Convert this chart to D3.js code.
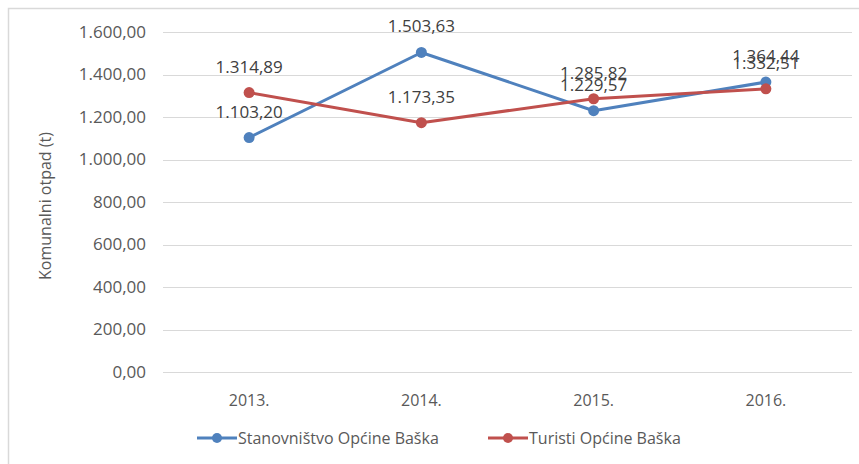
<!DOCTYPE html>
<html>
<head>
<meta charset="utf-8">
<script src="https://cdn.jsdelivr.net/npm/d3@7"></script>
<style>
  html, body { margin: 0; padding: 0; background: #fff; }
  svg text { font-family: "Open Sans", "Liberation Sans", sans-serif; }
</style>
</head>
<body>
<svg id="chart" width="859" height="464"></svg>
<script>
// Municipal waste (t) produced in Baška, by year
const years = ["2013.", "2014.", "2015.", "2016."];
const residents = [1103.20, 1503.63, 1229.57, 1364.44];
const tourists = [1314.89, 1173.35, 1285.82, 1332.51];
const yTicks = [0, 200, 400, 600, 800, 1000, 1200, 1400, 1600];
const seriesNames = ["Stanovništvo Općine Baška", "Turisti Općine Baška"];
const seriesColors = ["#4F81BD", "#C0504D"];

const series = [
  { name: seriesNames[0], color: seriesColors[0], values: residents },
  { name: seriesNames[1], color: seriesColors[1], values: tourists }
];

const svg = d3.select("#chart");
const W = 859, H = 464;
const plot = { left: 163, right: 852, top: 32, bottom: 372 };

// Hrvatski number format: 1.234,56
const hr = d3.formatLocale({ decimal: ",", thousands: ".", grouping: [3], currency: ["", " kn"] });
const fmt = hr.format(",.2f");

// chart frame (right and bottom edges run past the canvas)
svg.append("rect")
  .attr("x", 8.5).attr("y", 8.5)
  .attr("width", W + 20).attr("height", H + 20)
  .attr("fill", "#fff").attr("stroke", "#D9D9D9").attr("stroke-width", 1.5);

const x = d3.scaleBand().domain(years).range([plot.left, plot.right]);
const y = d3.scaleLinear().domain([0, 1600]).range([plot.bottom, plot.top]);

// gridlines
svg.append("g")
  .selectAll("line")
  .data(yTicks)
  .join("line")
  .attr("x1", plot.left).attr("x2", plot.right)
  .attr("y1", d => Math.round(y(d)) + 0.5).attr("y2", d => Math.round(y(d)) + 0.5)
  .attr("stroke", "#D9D9D9").attr("stroke-width", 1);

// y axis labels
const yAxis = d3.axisLeft(y).tickValues(yTicks).tickFormat(fmt).tickSize(0).tickPadding(0);
svg.append("g")
  .attr("transform", `translate(146,0)`)
  .call(yAxis)
  .call(g => g.select(".domain").remove())
  .call(g => g.selectAll("text")
    .attr("fill", "#595959")
    .style("font-size", "17px")
    .style("font-family", "'Open Sans', sans-serif"));

// x axis labels
const xAxis = d3.axisBottom(x).tickSize(0).tickPadding(0);
svg.append("g")
  .attr("transform", `translate(0,${plot.bottom + 23})`)
  .call(xAxis)
  .call(g => g.select(".domain").remove())
  .call(g => g.selectAll("text")
    .attr("fill", "#595959")
    .style("font-size", "16px")
    .style("font-family", "'Open Sans', sans-serif"));

// y axis title
svg.append("text")
  .attr("transform", `translate(51,206) rotate(-90)`)
  .attr("text-anchor", "middle")
  .attr("fill", "#595959")
  .style("font-size", "16px")
  .text("Komunalni otpad (t)");

const line = d3.line()
  .x((d, i) => x(years[i]) + x.bandwidth() / 2)
  .y(d => y(d));

const sg = svg.append("g").selectAll("g").data(series).join("g");

sg.append("path")
  .attr("d", d => line(d.values))
  .attr("fill", "none")
  .attr("stroke", d => d.color)
  .attr("stroke-width", 3)
  .attr("stroke-linejoin", "round");

sg.selectAll("circle")
  .data(d => d.values.map((v, i) => ({ v, i, color: d.color })))
  .join("circle")
  .attr("cx", d => x(years[d.i]) + x.bandwidth() / 2)
  .attr("cy", d => y(d.v))
  .attr("r", 5.5)
  .attr("fill", d => d.color);

// value labels above points
sg.selectAll("text.val")
  .data(d => d.values.map((v, i) => ({ v, i })))
  .join("text")
  .attr("class", "val")
  .attr("x", d => x(years[d.i]) + x.bandwidth() / 2)
  .attr("y", d => y(d.v) - 20)
  .attr("text-anchor", "middle")
  .attr("fill", "#404040")
  .style("font-size", "17px")
  .text(d => fmt(d.v));

// legend
const legendItems = [
  { name: seriesNames[0], color: seriesColors[0], x: 197 },
  { name: seriesNames[1], color: seriesColors[1], x: 488 }
];
const lg = svg.append("g").selectAll("g").data(legendItems).join("g")
  .attr("transform", d => `translate(${d.x},438)`);
lg.append("line")
  .attr("x1", 0).attr("x2", 40).attr("y1", 0).attr("y2", 0)
  .attr("stroke", d => d.color).attr("stroke-width", 3);
lg.append("circle")
  .attr("cx", 20).attr("cy", 0).attr("r", 5)
  .attr("fill", d => d.color);
lg.append("text")
  .attr("x", 41).attr("y", 6)
  .attr("fill", "#595959")
  .style("font-size", "16px")
  .text(d => d.name);
</script>
</body>
</html>
